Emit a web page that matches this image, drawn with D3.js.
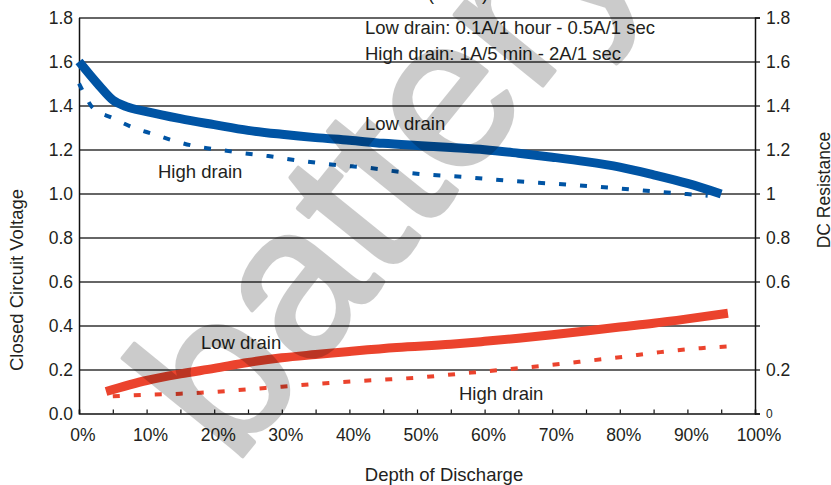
<!DOCTYPE html>
<html>
<head>
<meta charset="utf-8">
<script src="https://cdn.jsdelivr.net/npm/d3@7"></script>
<style>
  html, body { margin: 0; padding: 0; background: #fff; }
  svg { display: block; font-family: "Liberation Sans", Arial, Helvetica, sans-serif; }
</style>
</head>
<body>
<svg id="chart" width="831" height="485"></svg>
<script>
// ---------- data ----------
const depthTickValues = [0, 5, 10, 15, 20, 25, 30, 35, 40, 45, 50, 55, 60, 65, 70, 75, 80, 85, 90, 95, 100];
const depthTickLabels = ["0%", "", "10%", "", "20%", "", "30%", "", "40%", "", "50%", "", "60%", "", "70%", "", "80%", "", "90%", "", "100%"];
const voltageTickValues = [0, 0.2, 0.4, 0.6, 0.8, 1.0, 1.2, 1.4, 1.6, 1.8];
const voltageTickLabels = ["0.0", "0.2", "0.4", "0.6", "0.8", "1.0", "1.2", "1.4", "1.6", "1.8"];
const resistanceTickLabels = ["0", "0.2", "", "0.6", "0.8", "1", "1.2", "1.4", "1.6", "1.8"];

// Closed circuit voltage, low drain (solid blue)
const lowDrainVoltageDepth = [0, 3, 5, 7, 10, 15, 20, 25, 30, 35, 40, 45, 50, 55, 60, 65, 70, 75, 80, 85, 90, 95];
const lowDrainVoltage = [1.60, 1.49, 1.425, 1.395, 1.372, 1.34, 1.313, 1.287, 1.269, 1.254, 1.242, 1.228, 1.218, 1.209, 1.199, 1.183, 1.165, 1.145, 1.12, 1.085, 1.046, 0.998];

// Closed circuit voltage, high drain (dashed blue)
const highDrainVoltageDepth = [0, 1, 2, 5, 8, 11, 14, 18, 21, 24, 28, 32, 38, 43, 47, 50, 57, 64, 71, 79, 86, 93];
const highDrainVoltage = [1.50, 1.44, 1.39, 1.343, 1.30, 1.27, 1.24, 1.21, 1.198, 1.184, 1.17, 1.152, 1.13, 1.116, 1.10, 1.09, 1.075, 1.057, 1.043, 1.025, 1.007, 0.99];

// DC resistance, low drain (solid red)
const lowDrainResistanceDepth = [4, 10, 15, 20, 25, 30, 35, 40, 47, 55, 60, 65, 70, 75, 80, 85, 90, 96];
const lowDrainResistance = [0.10, 0.15, 0.18, 0.205, 0.232, 0.253, 0.268, 0.282, 0.30, 0.315, 0.328, 0.342, 0.358, 0.375, 0.393, 0.41, 0.43, 0.456];

// DC resistance, high drain (dashed red)
const highDrainResistanceDepth = [5, 10, 15, 20, 25, 30, 37, 44, 50, 56, 62, 68, 74, 80, 86, 92, 96];
const highDrainResistance = [0.078, 0.085, 0.09, 0.098, 0.11, 0.122, 0.139, 0.152, 0.163, 0.18, 0.197, 0.215, 0.235, 0.256, 0.279, 0.297, 0.305];

// ---------- layout ----------
const svg = d3.select("#chart");
const plotLeft = 79, plotRight = 755, plotTop = 17.5, plotBottom = 413.5;
const textColor = "#231f20";
const blue = "#0054a4";
const red = "#eb432d";

const x = d3.scaleLinear().domain([0, 100]).range([plotLeft, plotRight]);
const y = d3.scaleLinear().domain([0, 1.8]).range([plotBottom, plotTop]);

// grid lines
svg.append("g")
  .attr("transform", `translate(${plotLeft},0)`)
  .call(d3.axisLeft(y).tickValues(voltageTickValues.filter(v => v > 0)).tickSize(-(plotRight - plotLeft)).tickFormat(""))
  .call(g => g.select(".domain").remove())
  .call(g => g.selectAll(".tick line").attr("stroke", "#333").attr("stroke-width", 1.3));

// left axis
svg.append("g")
  .attr("transform", `translate(${plotLeft},0)`)
  .call(d3.axisLeft(y).tickValues(voltageTickValues).tickSize(0).tickPadding(6)
    .tickFormat((d, i) => voltageTickLabels[i]))
  .call(g => g.select(".domain").attr("stroke", "#111").attr("stroke-width", 1.5))
  .call(g => g.selectAll("text").attr("font-size", 17.5).attr("fill", textColor).attr("font-family", null));

// right axis
svg.append("g")
  .attr("transform", `translate(${plotRight},0)`)
  .call(d3.axisRight(y).tickValues(voltageTickValues).tickSize(5).tickPadding(6)
    .tickFormat((d, i) => resistanceTickLabels[i]))
  .call(g => g.select(".domain").attr("stroke", "#111").attr("stroke-width", 1.5))
  .call(g => g.selectAll(".tick line").attr("stroke", "#111").attr("stroke-width", 1.3))
  .call(g => g.selectAll("text").attr("font-size", (d, i) => i === 0 ? 12 : 17.5).attr("fill", textColor).attr("font-family", null));

// bottom axis
svg.append("g")
  .attr("transform", `translate(0,${plotBottom})`)
  .call(d3.axisBottom(x).tickValues(depthTickValues).tickSize(-4).tickPadding(0)
    .tickFormat((d, i) => depthTickLabels[i]))
  .call(g => g.select(".domain").attr("stroke", "#111").attr("stroke-width", 1.5))
  .call(g => g.selectAll(".tick line").attr("stroke", "#111").attr("stroke-width", 1.2))
  .call(g => g.selectAll("text").attr("font-size", 17.5).attr("fill", textColor).attr("font-family", null)
    .attr("dy", null).attr("y", 27.5).attr("x", 3.5));

// lines
const line = d3.line().x(d => x(d[0])).y(d => y(d[1])).curve(d3.curveMonotoneX);
const zip = (a, b) => a.map((v, i) => [v, b[i]]);

svg.append("path").datum(zip(lowDrainVoltageDepth, lowDrainVoltage))
  .attr("d", line).attr("fill", "none").attr("stroke", blue).attr("stroke-width", 9);
svg.append("path").datum(zip(highDrainVoltageDepth, highDrainVoltage))
  .attr("d", line).attr("fill", "none").attr("stroke", blue).attr("stroke-width", 4).attr("stroke-dasharray", "7,14");
svg.append("path").datum(zip(lowDrainResistanceDepth, lowDrainResistance))
  .attr("d", line).attr("fill", "none").attr("stroke", red).attr("stroke-width", 9);
svg.append("path").datum(zip(highDrainResistanceDepth, highDrainResistance))
  .attr("d", line).attr("fill", "none").attr("stroke", red).attr("stroke-width", 4).attr("stroke-dasharray", "7,14");

// annotations
const ann = (t, ax, ay, size) => svg.append("text").attr("x", ax).attr("y", ay)
  .attr("font-size", size || 18.5).attr("fill", textColor).text(t);
ann("Low drain: 0.1A/1 hour - 0.5A/1 sec", 365, 34);
ann("High drain: 1A/5 min - 2A/1 sec", 365, 60);
ann("Low drain", 365, 130);
ann("High drain", 158, 178);
ann("Low drain", 201, 349);
ann("High drain", 459, 400);

// partially visible title (cut by the top edge, as in the original)
svg.append("text").attr("x", 458).attr("y", 0).attr("text-anchor", "middle")
  .attr("font-size", 18).attr("fill", textColor).text("(Ohms)");

// axis titles
svg.append("text").attr("x", 444).attr("y", 481).attr("text-anchor", "middle")
  .attr("font-size", 18.5).attr("fill", textColor).text("Depth of Discharge");
svg.append("text").attr("transform", "translate(23,280) rotate(-90)").attr("text-anchor", "middle")
  .attr("font-size", 18.5).attr("fill", textColor).text("Closed Circuit Voltage");
svg.append("text").attr("transform", "translate(830,190) rotate(-90)").attr("text-anchor", "middle")
  .attr("font-size", 17.5).attr("fill", textColor).text("DC Resistance");

// watermark
svg.append("g").attr("opacity", 0.2)
  .append("text").attr("transform", "translate(234,467) rotate(-51)")
  .attr("font-size", 214).attr("fill", "#000").attr("stroke", "#000").attr("stroke-width", 4)
  .attr("stroke-linejoin", "round").text("battery");
</script>
</body>
</html>
